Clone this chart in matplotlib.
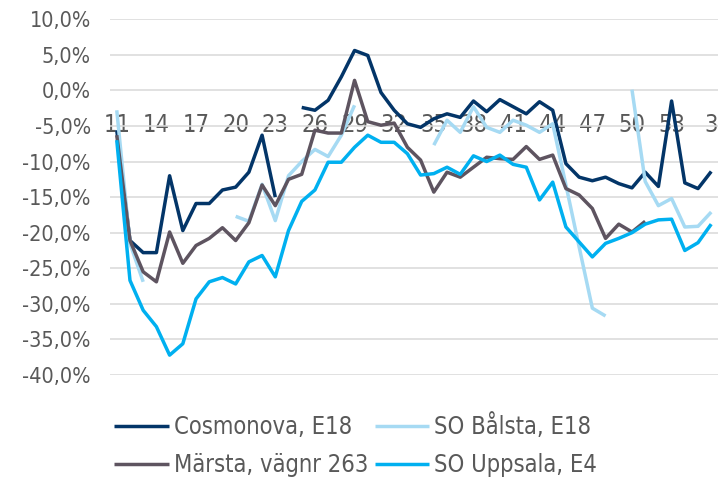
import numpy as np
import matplotlib
matplotlib.use("Agg")
import matplotlib.pyplot as plt
from matplotlib.ticker import FuncFormatter

nan = np.nan

weeks = [str(w) for w in range(11, 54)] + ["1", "2", "3"]

cosmonova = [-5.6, -21.1, -22.8, -22.8, -12.0, -19.7, -15.9, -15.9, -14.0, -13.6,
             -11.5, -6.3, -15.0, nan, -2.4, -2.8, -1.4, 1.9, 5.6, 4.9,
             -0.3, -2.8, -4.7, -5.2, -4.0, -3.3, -3.8, -1.5, -3.0, -1.3,
             -2.3, -3.3, -1.6, -2.8, -10.3, -12.2, -12.7, -12.2, -13.1, -13.7,
             -11.5, -13.5, -1.5, -13.0, -13.8, -11.4]

balsta = [-2.8, -21.5, -26.9, nan, nan, nan, nan, nan, nan, -17.7,
          -18.4, -13.2, -18.3, -12.0, -10.0, -8.3, -9.3, -6.3, -2.1, nan,
          nan, nan, nan, nan, -7.7, -4.2, -5.9, -2.3, -5.2, -5.9,
          -4.2, -4.9, -5.9, -4.7, -13.3, -22.0, -30.6, -31.7, nan, 0.1,
          -12.8, -16.2, -15.2, -19.2, -19.1, -17.1]

marsta = [-6.3, -21.1, -25.5, -26.9, -19.9, -24.3, -21.8, -20.8, -19.3, -21.1,
          -18.6, -13.3, -16.2, -12.5, -11.8, -5.6, -6.0, -6.0, 1.4, -4.4,
          -4.9, -4.6, -8.0, -9.8, -14.3, -11.5, -12.2, -10.8, -9.4, -9.6,
          -9.7, -7.9, -9.7, -9.1, -13.8, -14.7, -16.6, -20.8, -18.8, -19.9,
          -18.4, nan, nan, nan, nan, nan]

uppsala = [-7.0, -26.7, -30.9, -33.2, -37.2, -35.6, -29.3, -26.9, -26.3, -27.2,
           -24.1, -23.2, -26.2, -19.7, -15.6, -14.0, -10.1, -10.1, -8.0, -6.3,
           -7.3, -7.3, -8.9, -11.9, -11.7, -10.8, -11.8, -9.2, -10.0, -9.1,
           -10.4, -10.8, -15.4, -12.9, -19.2, -21.3, -23.4, -21.5, -20.8, -20.0,
           -18.8, -18.2, -18.1, -22.5, -21.4, -18.8]

series = [
    ("Cosmonova, E18", cosmonova, "#033568"),
    ("SO Bålsta, E18", balsta, "#a6daf3"),
    ("Märsta, vägnr 263", marsta, "#5e5460"),
    ("SO Uppsala, E4", uppsala, "#00b0f0"),
]

text_color = "#595959"
plt.rcParams["font.family"] = "DejaVu Sans"
plt.rcParams["font.stretch"] = "condensed"

fig = plt.figure(figsize=(7.2, 4.79), dpi=100)
ax = fig.add_axes([0.153, 0.217, 0.844, 0.743])

x = np.arange(len(weeks))
lines = []
for name, vals, color in series:
    (ln,) = ax.plot(x, vals, color=color, linewidth=2.5, label=name,
                    solid_joinstyle="round", solid_capstyle="butt")
    lines.append(ln)

ax.set_xlim(-0.5, len(weeks) - 0.5)
ax.set_ylim(-40, 10)
ax.set_yticks(np.arange(-40, 11, 5))
ax.yaxis.set_major_formatter(FuncFormatter(lambda v, p: f"{v:.1f}%".replace(".", ",")))
ax.grid(axis="y", color="#d9d9d9", linewidth=1.1)
ax.set_axisbelow(True)

ax.set_xticks(x[::3])
ax.set_xticklabels(weeks[::3])
ax.spines["bottom"].set_position(("data", 0))
for s in ax.spines.values():
    s.set_visible(False)
ax.tick_params(axis="x", length=0, pad=16, labelsize=17, colors=text_color)
ax.tick_params(axis="y", length=0, pad=14, labelsize=15.5, colors=text_color)

# order so rows read Cosmonova/Bålsta, Märsta/Uppsala
order = [0, 2, 1, 3]
leg = fig.legend([lines[i] for i in order], [series[i][0] for i in order],
                 ncol=2, frameon=False, loc="center", bbox_to_anchor=(0.494, 0.071),
                 fontsize=17, handlelength=2.3, handletextpad=0.2,
                 columnspacing=0.3, labelspacing=0.6)
for t in leg.get_texts():
    t.set_color(text_color)

fig.savefig("out.png", dpi=100)
